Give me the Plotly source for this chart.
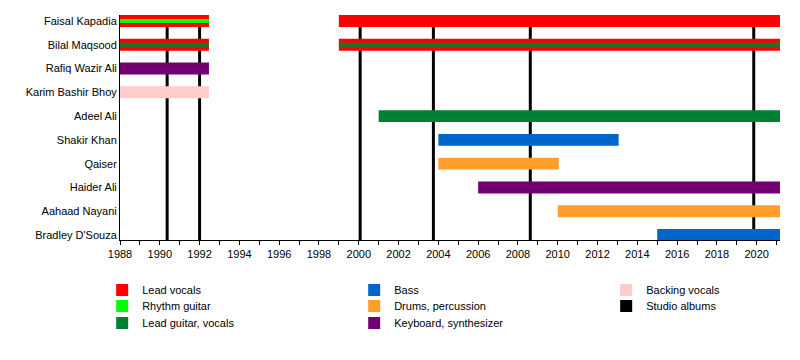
import plotly.graph_objects as go

END = 2021.17

members = ["Faisal Kapadia", "Bilal Maqsood", "Rafiq Wazir Ali", "Karim Bashir Bhoy",
           "Adeel Ali", "Shakir Khan", "Qaiser", "Haider Ali", "Aahaad Nayani",
           "Bradley D'Souza"]

lead_vocals_members = ["Faisal Kapadia", "Bilal Maqsood", "Faisal Kapadia", "Bilal Maqsood"]
lead_vocals_start = [1988, 1988, 1999, 1999]
lead_vocals_end = [1992.47, 1992.47, END, END]

rhythm_guitar_members = ["Faisal Kapadia"]
rhythm_guitar_start = [1988]
rhythm_guitar_end = [1992.47]

lead_guitar_members = ["Bilal Maqsood", "Bilal Maqsood", "Adeel Ali"]
lead_guitar_start = [1988, 1999, 2001]
lead_guitar_end = [1992.47, END, END]
lead_guitar_stripe = [True, True, False]

bass_members = ["Shakir Khan", "Bradley D'Souza"]
bass_start = [2004, 2015]
bass_end = [2013.06, END]

drums_members = ["Qaiser", "Aahaad Nayani"]
drums_start = [2004, 2010]
drums_end = [2010.05, END]

keyboard_members = ["Rafiq Wazir Ali", "Haider Ali"]
keyboard_start = [1988, 2006]
keyboard_end = [1992.47, END]

backing_members = ["Karim Bashir Bhoy"]
backing_start = [1988]
backing_end = [1992.47]

album_years = [1990.37, 1992.0, 2000.07, 2003.75, 2008.62, 2019.85]

x_ticks = list(range(1988, 2021, 2))

FULL = 0.5
STRIPE = 0.17

fig = go.Figure()

def add_role(name, color, mem, start, end, widths, legend):
    fig.add_trace(go.Bar(
        name=name, orientation="h",
        y=[members.index(m) for m in mem],
        base=start,
        x=[e - s for s, e in zip(start, end)],
        width=widths,
        marker=dict(color=color, line=dict(width=0)),
        xaxis="x", yaxis="y2", legend=legend, hoverinfo="skip",
    ))

add_role("Lead vocals", "#ff0000", lead_vocals_members, lead_vocals_start, lead_vocals_end,
         [FULL] * len(lead_vocals_members), "legend")
add_role("Rhythm guitar", "#00ff00", rhythm_guitar_members, rhythm_guitar_start, rhythm_guitar_end,
         [STRIPE] * len(rhythm_guitar_members), "legend2")
add_role("Lead guitar, vocals", "#008033", lead_guitar_members, lead_guitar_start, lead_guitar_end,
         [STRIPE if s else FULL for s in lead_guitar_stripe], "legend3")
add_role("Bass", "#0066cc", bass_members, bass_start, bass_end, [FULL] * len(bass_members), "legend")
add_role("Drums, percussion", "#ff9e2a", drums_members, drums_start, drums_end,
         [FULL] * len(drums_members), "legend2")
add_role("Keyboard, synthesizer", "#730073", keyboard_members, keyboard_start, keyboard_end,
         [FULL] * len(keyboard_members), "legend3")
add_role("Backing vocals", "#ffcccc", backing_members, backing_start, backing_end,
         [FULL] * len(backing_members), "legend")

fig.add_trace(go.Bar(
    name="Studio albums", orientation="v",
    x=album_years, y=[1] * len(album_years), base=0, width=0.15,
    marker=dict(color="#000000", line=dict(width=0)),
    xaxis="x", yaxis="y", legend="legend2", hoverinfo="skip",
))

top_px, bottom_px = 15, 240
plot_h = bottom_px - top_px
def py(p):
    return (bottom_px - p) / plot_h

font = dict(family="Liberation Sans, Arial, sans-serif", size=11, color="#000000")
leg_common = dict(orientation="h", xanchor="left", yanchor="middle", x=-0.027,
                  font=font, entrywidth=207, bgcolor="rgba(0,0,0,0)", borderwidth=0,
                  itemclick=False, itemdoubleclick=False)

fig.update_layout(
    width=800, height=360,
    margin=dict(l=120, r=20, t=top_px, b=360 - bottom_px, autoexpand=False),
    paper_bgcolor="white", plot_bgcolor="white",
    barmode="overlay",
    font=font,
    hovermode=False,
    xaxis=dict(range=[1988, END], tickvals=x_ticks, ticks="outside", ticklen=4,
               tickcolor="black", showline=True, linecolor="black", linewidth=1,
               showgrid=False, zeroline=False, tickfont=dict(size=11),
               minor=dict(dtick=1, tick0=1988, ticks="outside", ticklen=4, tickcolor="black")),
    yaxis=dict(range=[0, 1], visible=False, fixedrange=True),
    yaxis2=dict(overlaying="y", anchor="x", side="left",
                range=[9.21, -0.25], tickvals=list(range(len(members))), ticktext=members,
                showline=True, linecolor="black", linewidth=1, ticks="",
                showgrid=False, zeroline=False, tickfont=dict(size=11)),
    legend=dict(y=py(290), **leg_common),
    legend2=dict(y=py(306), **leg_common),
    legend3=dict(y=py(323), **leg_common),
    showlegend=True,
)

fig.write_html("out.html", config={"displayModeBar": False, "staticPlot": True},
               post_script="document.body.style.margin='0';document.body.style.overflow='hidden';")
